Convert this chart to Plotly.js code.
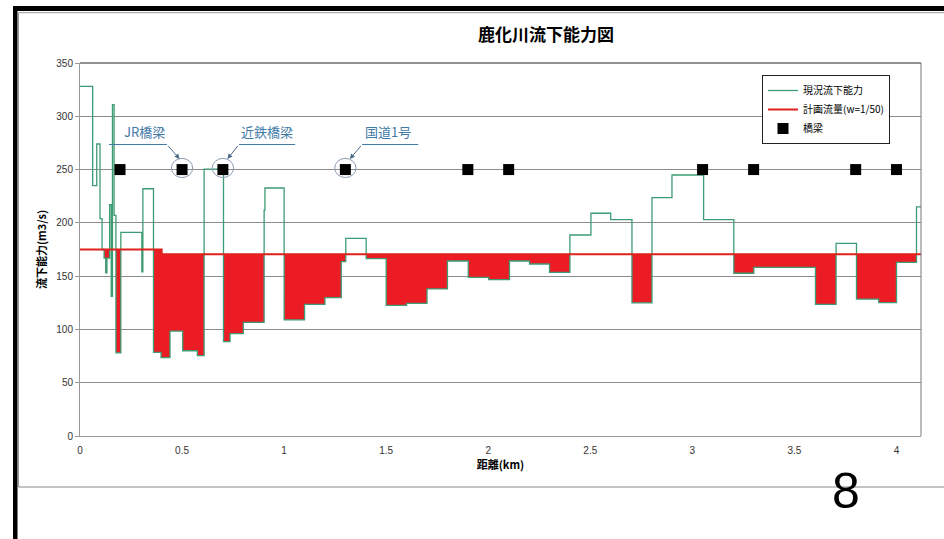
<!DOCTYPE html>
<html>
<head>
<meta charset="utf-8">
<script src="https://cdn.plot.ly/plotly-3.0.1.min.js"></script>
<style>html,body{margin:0;padding:0;background:#fff;}#chart{width:944px;height:539px;}</style>
</head>
<body>
<div id="chart"></div>
<script>
// 現況流下能力 (step values starting at each distance, km / m3/s)
const distKm = [0, 0.062, 0.082, 0.098, 0.108, 0.118, 0.126, 0.132, 0.145, 0.153, 0.159, 0.167, 0.176, 0.200, 0.303, 0.308, 0.360, 0.397, 0.441, 0.503, 0.575, 0.608, 0.703, 0.735, 0.800, 0.902, 0.906, 1.000, 1.100, 1.200, 1.280, 1.302, 1.402, 1.500, 1.600, 1.700, 1.800, 1.902, 2.002, 2.104, 2.202, 2.300, 2.400, 2.503, 2.600, 2.704, 2.802, 2.900, 3.055, 3.203, 3.301, 3.603, 3.704, 3.804, 3.913, 4.000, 4.098, 4.12];
const capacity = [328, 235, 274, 204, 175, 167, 153, 167, 217, 131, 311, 207, 78, 191, 154, 232, 78.5, 73.5, 98.5, 80, 75.5, 250.5, 88.5, 96, 106.7, 212, 232.7, 109, 123.6, 129.8, 163.6, 185.5, 166.5, 122.6, 124.5, 138, 164.2, 148.9, 146.7, 164.2, 161.4, 153.6, 188.6, 209, 203, 125, 223.6, 244.9, 203, 152.7, 158.3, 123.6, 180.8, 128.5, 125.1, 163, 215, 215];
// 計画流量 (w=1/50)
const planKm = [0, 0.40, 4.12];
const planFlow = [175, 170.5, 170.5];
// 橋梁
const bridgeKm = [0.196, 0.5, 0.70, 1.30, 1.90, 2.10, 3.05, 3.30, 3.80, 4.00];
const bridgeY = [250, 250, 250, 250, 250, 250, 250, 250, 250, 250];
// x tick labels
const xTickVals = [0, 0.5, 1, 1.5, 2, 2.5, 3, 3.5, 4];
const xTickText = ['0', '0.5', '1', '1.5', '2', '2.5', '3', '3.5', '4'];

function stepAt(xs, ys, x) {
  let v = ys[0];
  for (let i = 0; i < xs.length; i++) { if (xs[i] <= x + 1e-9) v = ys[i]; }
  return v;
}
const unionX = Array.from(new Set(distKm.concat(planKm))).sort((a, b) => a - b);
const planU = unionX.map(x => stepAt(planKm, planFlow, x));
const deficitU = unionX.map(x => Math.min(stepAt(distKm, capacity, x), stepAt(planKm, planFlow, x)));

const FONT = '"Noto Sans CJK JP", "Noto Sans", sans-serif';
const green = '#3e9c74';
const blue = '#3f7aa6';

const traces = [
  {x: unionX, y: planU, mode: 'lines', line: {shape: 'hv', width: 0}, showlegend: false, hoverinfo: 'skip'},
  {x: unionX, y: deficitU, mode: 'lines', line: {shape: 'hv', width: 0}, fill: 'tonexty', fillcolor: '#ec1c24', showlegend: false, hoverinfo: 'skip'},
  {x: distKm, y: capacity, mode: 'lines', name: '現況流下能力', line: {shape: 'hv', width: 1.3, color: green}, legendrank: 1},
  {x: planKm, y: planFlow, mode: 'lines', name: '計画流量(w=1/50)', line: {shape: 'hv', width: 2, color: '#e0201c'}, legendrank: 2},
  {x: bridgeKm, y: bridgeY, mode: 'markers', name: '橋梁', marker: {symbol: 'square', size: 11, color: '#000'}, legendrank: 3}
];

function px2x(px) { return (px - 80) / 841; }
function py2y(py) { return (436 - py) / 373; }

const shapes = [
  // outer black frame
  {type: 'rect', xref: 'paper', yref: 'paper', x0: px2x(13), x1: px2x(17.5), y0: py2y(539), y1: py2y(6), fillcolor: '#000', line: {width: 0}},
  {type: 'rect', xref: 'paper', yref: 'paper', x0: px2x(13), x1: px2x(944), y0: py2y(11), y1: py2y(6), fillcolor: '#000', line: {width: 0}},
  // chart area border (gray)
  {type: 'line', xref: 'paper', yref: 'paper', x0: px2x(18.5), x1: px2x(944), y0: py2y(12.7), y1: py2y(12.7), line: {color: '#999', width: 1}},
  {type: 'line', xref: 'paper', yref: 'paper', x0: px2x(18.5), x1: px2x(18.5), y0: py2y(12.7), y1: py2y(487), line: {color: '#999', width: 1}},
  {type: 'line', xref: 'paper', yref: 'paper', x0: px2x(18.5), x1: px2x(944), y0: py2y(487), y1: py2y(487), line: {color: '#888', width: 1}},
  // plot area border
  {type: 'line', xref: 'paper', yref: 'paper', x0: 0, x1: 1, y0: 1, y1: 1, line: {color: '#222', width: 1}},
  {type: 'line', xref: 'paper', yref: 'paper', x0: 1, x1: 1, y0: 0, y1: 1, line: {color: '#777', width: 1}},
  // circles around named bridges
  {type: 'circle', xref: 'x', yref: 'y', x0: 0.5 - 0.052, x1: 0.5 + 0.052, y0: 251.5 - 9, y1: 251.5 + 9, line: {color: '#8a9cb0', width: 1}},
  {type: 'circle', xref: 'x', yref: 'y', x0: 0.70 - 0.052, x1: 0.70 + 0.052, y0: 251.5 - 9, y1: 251.5 + 9, line: {color: '#8a9cb0', width: 1}},
  {type: 'circle', xref: 'x', yref: 'y', x0: 1.30 - 0.052, x1: 1.30 + 0.052, y0: 251.5 - 9, y1: 251.5 + 9, line: {color: '#8a9cb0', width: 1}},
  // underlines of callouts
  {type: 'line', xref: 'x', yref: 'y', x0: 0.142, x1: 0.426, y0: 273.5, y1: 273.5, line: {color: blue, width: 1}},
  {type: 'line', xref: 'x', yref: 'y', x0: 0.779, x1: 1.054, y0: 273.5, y1: 273.5, line: {color: blue, width: 1}},
  {type: 'line', xref: 'x', yref: 'y', x0: 1.382, x1: 1.657, y0: 273.5, y1: 273.5, line: {color: blue, width: 1}}
];

const annFont = {family: FONT, size: 13, color: blue};
const annotations = [
  {x: 0.314, y: 274.5, xref: 'x', yref: 'y', text: 'JR橋梁', showarrow: false, yanchor: 'bottom', font: annFont},
  {x: 0.917, y: 274.5, xref: 'x', yref: 'y', text: '近鉄橋梁', showarrow: false, yanchor: 'bottom', font: annFont},
  {x: 1.507, y: 274.5, xref: 'x', yref: 'y', text: '国道1号', showarrow: false, yanchor: 'bottom', font: annFont},
  {x: 0.488, y: 260, ax: 0.426, ay: 273.5, xref: 'x', yref: 'y', axref: 'x', ayref: 'y', text: '', showarrow: true, arrowhead: 2, arrowsize: 1, arrowwidth: 1, arrowcolor: '#4a6a8a'},
  {x: 0.722, y: 260, ax: 0.779, ay: 273.5, xref: 'x', yref: 'y', axref: 'x', ayref: 'y', text: '', showarrow: true, arrowhead: 2, arrowsize: 1, arrowwidth: 1, arrowcolor: '#4a6a8a'},
  {x: 1.322, y: 260, ax: 1.382, ay: 273.5, xref: 'x', yref: 'y', axref: 'x', ayref: 'y', text: '', showarrow: true, arrowhead: 2, arrowsize: 1, arrowwidth: 1, arrowcolor: '#4a6a8a'},
  {x: px2x(846), y: py2y(491), xref: 'paper', yref: 'paper', text: '8', showarrow: false, font: {family: 'Liberation Sans, Arial, sans-serif', size: 50, color: '#000'}, xanchor: 'center', yanchor: 'middle'}
];

const layout = {
  width: 944, height: 539,
  margin: {l: 80, r: 23, t: 63, b: 103},
  paper_bgcolor: '#fff', plot_bgcolor: '#fff',
  title: {text: '<b>鹿化川流下能力図</b>', x: 546 / 944, xref: 'container', xanchor: 'center', y: 1 - 35 / 539, yref: 'container', yanchor: 'middle', font: {family: FONT, size: 17, color: '#000'}},
  xaxis: {
    range: [0, 4.12], tickvals: xTickVals, ticktext: xTickText,
    showgrid: false, zeroline: false, showline: true, linecolor: '#999', linewidth: 1,
    ticks: 'outside', ticklen: 5, tickcolor: 'rgba(0,0,0,0)',
    tickfont: {family: 'Liberation Sans, Arial, sans-serif', size: 10, color: '#333'},
    title: {text: '<b>距離(km)</b>', font: {family: FONT, size: 11, color: '#000'}, standoff: 4}
  },
  yaxis: {
    range: [0, 350], dtick: 50, showgrid: true, gridcolor: '#8c8c8c', gridwidth: 1,
    zeroline: false, showline: true, linecolor: '#999', linewidth: 1,
    ticks: 'outside', ticklen: 4, tickcolor: '#999',
    tickfont: {family: 'Liberation Sans, Arial, sans-serif', size: 10, color: '#333'},
    title: {text: '<b>流下能力(m3/s)</b>', font: {family: FONT, size: 11, color: '#000'}, standoff: 7}
  },
  legend: {
    x: px2x(762), y: py2y(75), xanchor: 'left', yanchor: 'top',
    bgcolor: '#fff', bordercolor: '#222', borderwidth: 1, traceorder: 'normal',
    font: {family: FONT, size: 10, color: '#000'}, itemwidth: 30, tracegroupgap: 0
  },
  showlegend: true,
  shapes: shapes,
  annotations: annotations,
  hovermode: false
};

Plotly.newPlot('chart', traces, layout, {staticPlot: true, displayModeBar: false});
</script>
</body>
</html>
